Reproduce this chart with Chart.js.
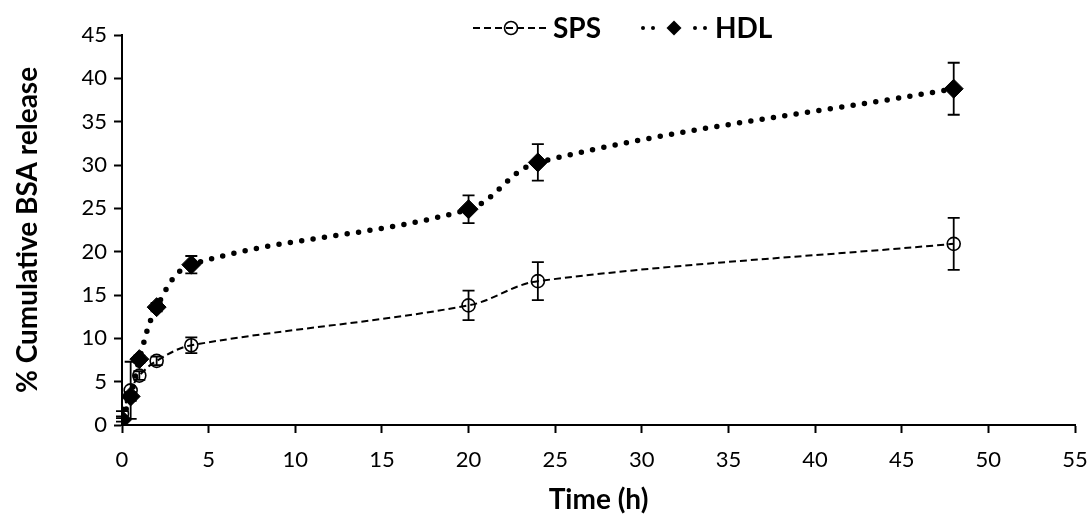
<!DOCTYPE html>
<html>
<head>
<meta charset="utf-8">
<script src="https://cdn.jsdelivr.net/npm/chart.js@4/dist/chart.umd.min.js"></script>
<style>
	html, body { margin: 0; padding: 0; background: #fff; }
	#chart { display: block; }
</style>
</head>
<body>
<canvas id="chart" width="1088" height="518"></canvas>
<script>
"use strict";

// Sampling times (h)
const times = [0, 0.5, 1, 2, 4, 20, 24, 48];

// % cumulative BSA release
const spsRelease = [1.3, 4.0, 5.7, 7.4, 9.2, 13.8, 16.6, 20.9];
const spsError = [0.3, 3.3, 0.5, 0.5, 0.9, 1.7, 2.2, 3.0];

const hdlRelease = [0.6, 3.3, 7.6, 13.6, 18.5, 24.9, 30.3, 38.8];
const hdlError = [0.2, 0.5, 0.4, 0.5, 1.0, 1.6, 2.1, 3.0];

const seriesLabels = ["SPS", "HDL"];

const xTicks = [0, 5, 10, 15, 20, 25, 30, 35, 40, 45, 50, 55];
const yTicks = [0, 5, 10, 15, 20, 25, 30, 35, 40, 45];

const FONT = "Lato, 'Liberation Sans', sans-serif";

function toPoints(xs, ys, errs) {
	return xs.map((x, i) => ({x: x, y: ys[i], err: errs[i]}));
}

const errorBars = {
	id: "errorBars",
	afterDatasetsDraw(chart) {
		const ctx = chart.ctx;
		const yScale = chart.scales.y;
		ctx.save();
		ctx.strokeStyle = "#000";
		ctx.lineWidth = 1.8;
		chart.data.datasets.forEach((ds, di) => {
			const meta = chart.getDatasetMeta(di);
			meta.data.forEach((pt, i) => {
				const d = ds.data[i];
				const top = yScale.getPixelForValue(d.y + d.err);
				const bot = yScale.getPixelForValue(d.y - d.err);
				const x = pt.x;
				ctx.beginPath();
				ctx.moveTo(x, top);
				ctx.lineTo(x, bot);
				ctx.moveTo(x - 6, top);
				ctx.lineTo(x + 6, top);
				ctx.moveTo(x - 6, bot);
				ctx.lineTo(x + 6, bot);
				ctx.stroke();
			});
		});
		ctx.restore();
	}
};

// Excel-style legend: a short sample of the line with the marker in the middle.
// The built-in legend clips its box and always centres, so it is drawn here.
const lineLegend = {
	id: "lineLegend",
	afterDraw(chart) {
		const ctx = chart.ctx;
		const cy = 28;
		ctx.save();
		ctx.fillStyle = "#000";
		ctx.strokeStyle = "#000";

		// SPS: dashed line, open circle
		let x0 = 473;
		ctx.lineWidth = 2;
		ctx.setLineDash([7, 4]);
		ctx.beginPath();
		ctx.moveTo(x0, cy);
		ctx.lineTo(x0 + 76, cy);
		ctx.stroke();
		ctx.setLineDash([]);
		ctx.lineWidth = 1.6;
		ctx.beginPath();
		ctx.arc(x0 + 38, cy, 6.5, 0, Math.PI * 2);
		ctx.stroke();

		// HDL: round dots, filled diamond
		const hx = 674;
		for (const dx of [-31, -21, 21, 31]) {
			ctx.beginPath();
			ctx.arc(hx + dx, cy, 2, 0, Math.PI * 2);
			ctx.fill();
		}
		ctx.beginPath();
		ctx.moveTo(hx - 7.5, cy);
		ctx.lineTo(hx, cy - 7.5);
		ctx.lineTo(hx + 7.5, cy);
		ctx.lineTo(hx, cy + 7.5);
		ctx.closePath();
		ctx.fill();

		ctx.font = `bold 28px ${FONT}`;
		ctx.textBaseline = "middle";
		ctx.textAlign = "left";
		ctx.fillText(seriesLabels[0], 553, cy + 1);
		ctx.fillText(seriesLabels[1], 715, cy + 1);
		ctx.restore();
	}
};

window.onload = () => {
	new Chart(document.getElementById("chart"), {
		type: "line",
		data: {
			datasets: [
				{
					label: seriesLabels[0],
					data: toPoints(times, spsRelease, spsError),
					borderColor: "#000",
					borderWidth: 2,
					borderDash: [7, 4],
					tension: 0.35,
					pointStyle: "circle",
					pointRadius: 6.5,
					pointBorderWidth: 1.6,
					pointBorderColor: "#000",
					pointBackgroundColor: "rgba(0,0,0,0)",
				},
				{
					label: seriesLabels[1],
					data: toPoints(times, hdlRelease, hdlError),
					borderColor: "#000",
					borderWidth: 5.5,
					borderDash: [0, 11.5],
					borderCapStyle: "round",
					tension: 0.35,
					pointStyle: "rectRot",
					pointRadius: 9.5,
					pointBorderWidth: 1,
					pointBorderColor: "#000",
					pointBackgroundColor: "#000",
				},
			],
		},
		options: {
			responsive: false,
			animation: false,
			layout: {
				padding: {left: 0, right: 13, top: 35, bottom: 0},
			},
			plugins: {
				tooltip: {enabled: false},
				legend: {display: false},
			},
			scales: {
				x: {
					type: "linear",
					min: 0,
					max: 55,
					afterBuildTicks: scale => {
						scale.ticks = xTicks.map(v => ({value: v}));
					},
					afterFit: scale => {
						scale.height = 93;
						// fixed plot box, no extra room for the end labels
						scale.paddingLeft = 0;
						scale.paddingRight = 0;
					},
					border: {color: "#000", width: 2},
					grid: {drawOnChartArea: false, tickLength: 8, tickWidth: 2, tickColor: "#000"},
					ticks: {color: "#000", padding: 14, font: {family: FONT, size: 22}},
					title: {
						display: true,
						text: "Time (h)",
						color: "#000",
						font: {family: FONT, size: 28, weight: "bold"},
						padding: {top: 0, bottom: 1},
					},
				},
				y: {
					min: 0,
					max: 45,
					afterBuildTicks: scale => {
						scale.ticks = yTicks.map(v => ({value: v}));
					},
					afterFit: scale => {
						scale.width = 122;
					},
					border: {color: "#000", width: 2},
					grid: {drawOnChartArea: false, tickLength: 8, tickWidth: 2, tickColor: "#000"},
					ticks: {color: "#000", padding: 7, font: {family: FONT, size: 22}},
					title: {
						display: true,
						text: "% Cumulative BSA release",
						color: "#000",
						font: {family: FONT, size: 28, weight: "bold"},
						padding: {top: 11, bottom: 0},
					},
				},
			},
		},
		plugins: [errorBars, lineLegend],
	});
};
</script>
</body>
</html>
